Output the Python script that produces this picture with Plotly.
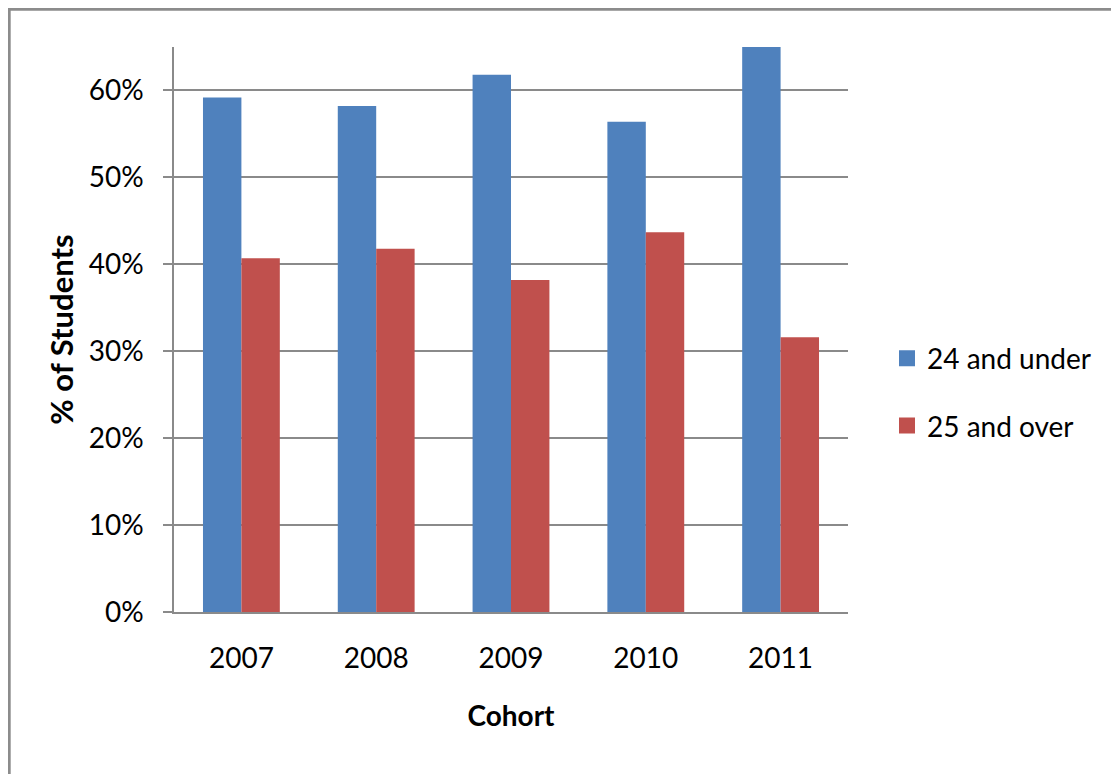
import plotly.graph_objects as go

cohorts = ["2007", "2008", "2009", "2010", "2011"]
under_24 = [59.2, 58.2, 61.8, 56.4, 68.4]
over_25 = [40.7, 41.8, 38.2, 43.7, 31.6]
series_names = ["24 and under", "25 and over"]
series_colors = ["#4F81BD", "#C0504D"]
y_ticks = [0, 10, 20, 30, 40, 50, 60]
y_tick_labels = ["0%", "10%", "20%", "30%", "40%", "50%", "60%"]

W, H = 1119, 774
ML, MR, MT, MB = 166, 279, 39, 170
FONT = "Lato"
GRID = "#8a8a8a"

fig = go.Figure()
for vals, name, col, grp in zip([under_24, over_25], series_names, series_colors, ["a", "b"]):
    fig.add_trace(go.Bar(x=cohorts, y=vals, name=name,
                         marker=dict(color=col, line=dict(width=0)),
                         legendgroup=grp, showlegend=False))
# legend entries with larger square swatches
for name, col, grp in zip(series_names, series_colors, ["a", "b"]):
    fig.add_trace(go.Scatter(x=[None], y=[None], mode="markers", name=name,
                             marker=dict(symbol="square", size=19, color=col),
                             legendgroup=grp, showlegend=True, hoverinfo="skip"))

pw = W - ML - MR
ph = H - MT - MB
# outer chart frame (extends beyond right / bottom edges)
fig.add_shape(type="rect", xref="paper", yref="paper",
              x0=(1.2 - ML) / pw, x1=(W + 20 - ML) / pw,
              y0=(H - MB - (H + 20)) / ph, y1=(H - MB - 1.2) / ph,
              line=dict(color="#8c8c8c", width=3), layer="below")

fig.update_layout(
    width=W, height=H,
    margin=dict(l=ML, r=MR, t=MT, b=MB, pad=0),
    paper_bgcolor="white", plot_bgcolor="white",
    font=dict(family=FONT, size=28, color="#000000"),
    barmode="group", bargap=0.43, bargroupgap=0,
    showlegend=True,
    legend=dict(x=(879 - ML) / pw, y=(H - MB - 384) / ph, xanchor="left", yanchor="middle",
                font=dict(family=FONT, size=28, color="#000000"),
                traceorder="grouped", tracegroupgap=28, itemsizing="trace",
                bgcolor="rgba(0,0,0,0)", itemwidth=30),
    xaxis=dict(
        type="category",
        showline=True, linecolor=GRID, linewidth=1.5,
        showgrid=False, ticks="", tickfont=dict(family=FONT, size=28),
        ticklabelstandoff=21,
        title=dict(text="<b>Cohort</b>", font=dict(family=FONT, size=28), standoff=33),
    ),
    yaxis=dict(
        range=[0, 65], tickvals=y_ticks, ticktext=y_tick_labels,
        showline=True, linecolor=GRID, linewidth=1.5,
        showgrid=True, gridcolor=GRID, gridwidth=1.5,
        ticks="outside", ticklen=9, tickcolor=GRID, tickwidth=1.5,
        tickfont=dict(family=FONT, size=28), ticklabelstandoff=14,
        zeroline=False,
        title=dict(text="<b>% of Students</b>", font=dict(family=FONT, size=31), standoff=6),
    ),
)

fig.write_html("out.html")
